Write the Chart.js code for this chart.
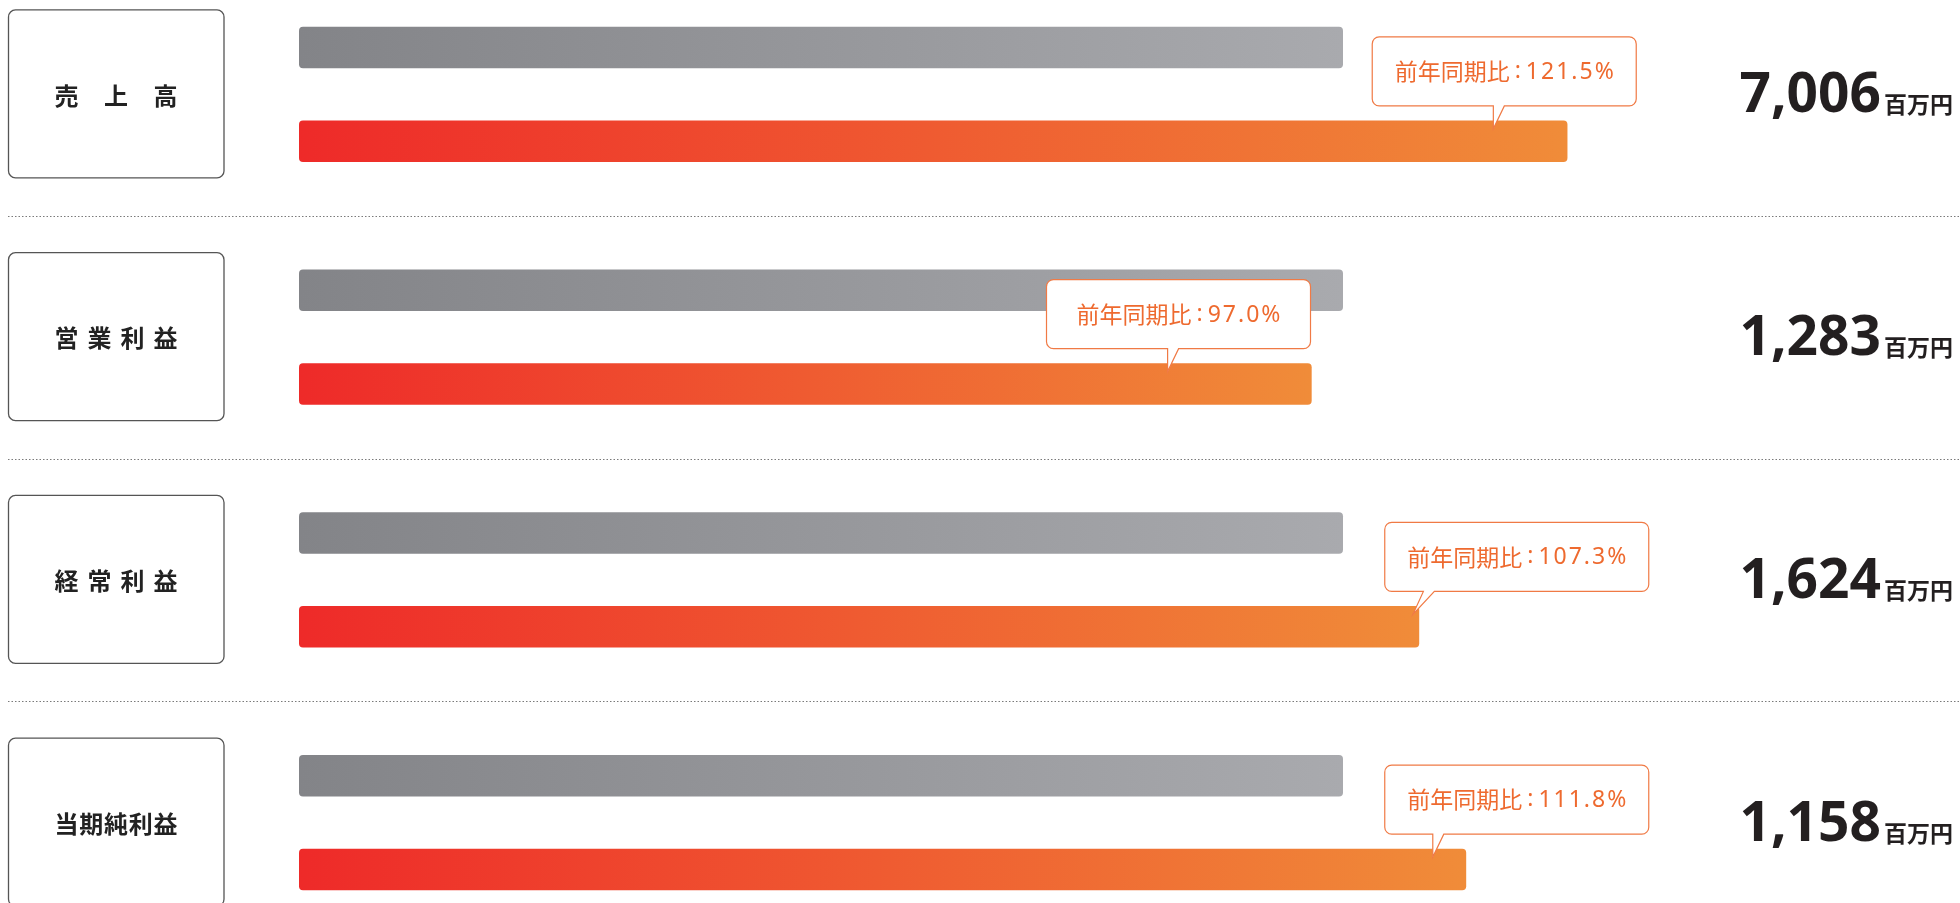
<!DOCTYPE html>
<html lang="ja">
<head>
<meta charset="utf-8">
<title>業績ハイライト</title>
<script src="https://cdn.jsdelivr.net/npm/chart.js@4.4.1/dist/chart.umd.min.js"></script>
<style>
  html, body { margin: 0; padding: 0; background: #fff; overflow: hidden; }
  .chart-wrap { position: absolute; left: 0; top: -27px; width: 1960px; height: 971px; }
</style>
</head>
<body>
<div class="chart-wrap"><canvas id="results"></canvas></div>
<script>
var categories = ['売上高', '営業利益', '経常利益', '当期純利益'];
var prevYearBase = [100, 100, 100, 100];
var yoyRatio = [121.5, 97.0, 107.3, 111.8];
var amounts = [7006, 1283, 1624, 1158];
var amountUnit = '百万円';

// callout placement in x-axis units: box left edge, pointer base, pointer tip
var calloutBoxLeft = [102.8, 71.6, 104.0, 104.0];
var calloutBase = [114.4, 83.2, 107.7, 108.6];
var calloutTip = [114.4, 83.2, 106.7, 108.6];

var CJK = '"Noto Sans CJK JP", "Noto Sans", sans-serif';
var LATIN = '"Noto Sans", sans-serif';

function barGradient(from, to) {
    return function (c) {
        var chart = c.chart;
        if (!chart.chartArea || c.type !== 'data') return from;
        var x = chart.scales.x;
        var x0 = x.getPixelForValue(0);
        var x1 = x.getPixelForValue(c.raw);
        var g = chart.ctx.createLinearGradient(x0, 0, x1, 0);
        g.addColorStop(0, from);
        g.addColorStop(1, to);
        return g;
    };
}

function roundRect(ctx, x, y, w, h, r) {
    ctx.beginPath();
    ctx.moveTo(x + r, y);
    ctx.lineTo(x + w - r, y);
    ctx.arcTo(x + w, y, x + w, y + r, r);
    ctx.lineTo(x + w, y + h - r);
    ctx.arcTo(x + w, y + h, x + w - r, y + h, r);
    ctx.lineTo(x + r, y + h);
    ctx.arcTo(x, y + h, x, y + h - r, r);
    ctx.lineTo(x, y + r);
    ctx.arcTo(x, y, x + r, y, r);
    ctx.closePath();
}

// spread the characters of a label evenly over a fixed width
function drawJustified(ctx, text, cx, cy, width) {
    var chars = Array.from(text);
    var total = 0;
    chars.forEach(function (ch) { total += ctx.measureText(ch).width; });
    var gap = chars.length > 1 ? (width - total) / (chars.length - 1) : 0;
    var x = cx - width / 2;
    ctx.textAlign = 'left';
    chars.forEach(function (ch) {
        ctx.fillText(ch, x, cy);
        x += ctx.measureText(ch).width + gap;
    });
}

var rowDecor = {
    id: 'rowDecor',
    beforeDatasetsDraw: function (chart) {
        var ctx = chart.ctx;
        var y = chart.scales.y;
        var band = y.getPixelForValue(1) - y.getPixelForValue(0);

        ctx.save();
        // dotted separators between rows
        ctx.strokeStyle = '#7a7a7a';
        ctx.lineWidth = 1;
        ctx.setLineDash([1.5, 2]);
        for (var k = 0; k < categories.length - 1; k++) {
            var sy = Math.round(y.getPixelForValue(k) + band / 2) + 0.5;
            ctx.beginPath();
            ctx.moveTo(8, sy);
            ctx.lineTo(chart.width, sy);
            ctx.stroke();
        }
        ctx.setLineDash([]);

        // category boxes on the left
        categories.forEach(function (name, i) {
            var cy = y.getPixelForValue(i);
            roundRect(ctx, 8.5, cy - 84.5, 215.5, 168, 7);
            ctx.fillStyle = '#fff';
            ctx.fill();
            ctx.strokeStyle = '#555';
            ctx.lineWidth = 1.3;
            ctx.stroke();
            ctx.fillStyle = '#222';
            ctx.font = 'bold 24px ' + CJK;
            ctx.textBaseline = 'middle';
            drawJustified(ctx, name, 116, cy + 1, 123);
        });

        // amounts on the right
        amounts.forEach(function (v, i) {
            var by = y.getPixelForValue(i) + 18;
            ctx.textBaseline = 'alphabetic';
            ctx.textAlign = 'right';
            ctx.fillStyle = '#231f20';
            ctx.font = 'bold 23px ' + CJK;
            ctx.fillText(amountUnit, 1953, by + 1);
            var uw = ctx.measureText(amountUnit).width;
            ctx.font = 'bold 55px ' + LATIN;
            ctx.fillText(v.toLocaleString('ja-JP'), 1953 - uw - 3, by);
        });
        ctx.restore();
    },
    afterDatasetsDraw: function (chart) {
        var ctx = chart.ctx;
        var x = chart.scales.x;
        var y = chart.scales.y;
        ctx.save();
        yoyRatio.forEach(function (v, i) {
            var cy = y.getPixelForValue(i);
            var left = x.getPixelForValue(calloutBoxLeft[i]);
            var w = 264, h = 69, r = 7;
            var top = cy - 57.5, bottom = top + h;
            var baseL = x.getPixelForValue(calloutBase[i]);
            var baseR = baseL + 11;
            var tipX = x.getPixelForValue(calloutTip[i]);
            var tipY = cy + 34.5;

            ctx.beginPath();
            ctx.moveTo(left + r, top);
            ctx.lineTo(left + w - r, top);
            ctx.arcTo(left + w, top, left + w, top + r, r);
            ctx.lineTo(left + w, bottom - r);
            ctx.arcTo(left + w, bottom, left + w - r, bottom, r);
            ctx.lineTo(baseR, bottom);
            ctx.lineTo(tipX, tipY);
            ctx.lineTo(baseL, bottom);
            ctx.lineTo(left + r, bottom);
            ctx.arcTo(left, bottom, left, bottom - r, r);
            ctx.lineTo(left, top + r);
            ctx.arcTo(left, top, left + r, top, r);
            ctx.closePath();
            ctx.fillStyle = '#fff';
            ctx.fill();
            ctx.strokeStyle = '#f07a45';
            ctx.lineWidth = 1.2;
            ctx.stroke();

            // "前年同期比" in CJK, then a centred colon and the ratio with looser digits
            var head = '前年同期比';
            var num = v.toFixed(1) + '%';
            var colonGap = 5;
            ctx.fillStyle = '#ee6a2f';
            ctx.textBaseline = 'middle';
            ctx.textAlign = 'left';
            ctx.font = '23px ' + CJK;
            var hw = ctx.measureText(head).width;
            ctx.font = '23px ' + LATIN;
            var cw = ctx.measureText(':').width;
            ctx.letterSpacing = '2px';
            var nw = ctx.measureText(num).width - 2;
            var total = hw + colonGap + cw + colonGap + nw;
            var tx = left + w / 2 - total / 2;
            var ty = top + h / 2;
            ctx.fillText(num, tx + hw + colonGap * 2 + cw, ty + 1);
            ctx.letterSpacing = '0px';
            ctx.fillText(':', tx + hw + colonGap, ty);
            ctx.font = '23px ' + CJK;
            ctx.fillText(head, tx, ty);
        });
        ctx.restore();
    }
};

new Chart(document.getElementById('results'), {
    type: 'bar',
    data: {
        labels: categories,
        datasets: [{
            label: '前年同期',
            data: prevYearBase,
            backgroundColor: barGradient('#838488', '#a9aaae'),
            borderRadius: 4,
            borderSkipped: false
        }, {
            label: '当期',
            data: yoyRatio,
            backgroundColor: barGradient('#ee2a29', '#f08c39'),
            borderRadius: 4,
            borderSkipped: false
        }]
    },
    options: {
        indexAxis: 'y',
        responsive: true,
        maintainAspectRatio: false,
        animation: false,
        categoryPercentage: 0.772,
        barPercentage: 0.443,
        layout: { padding: { left: 299, right: 95, top: 0, bottom: 0 } },
        scales: {
            x: { display: false, min: 0, max: 150 },
            y: { display: false }
        },
        plugins: {
            legend: { display: false },
            tooltip: { enabled: false }
        }
    },
    plugins: [rowDecor]
});
</script>
</body>
</html>
